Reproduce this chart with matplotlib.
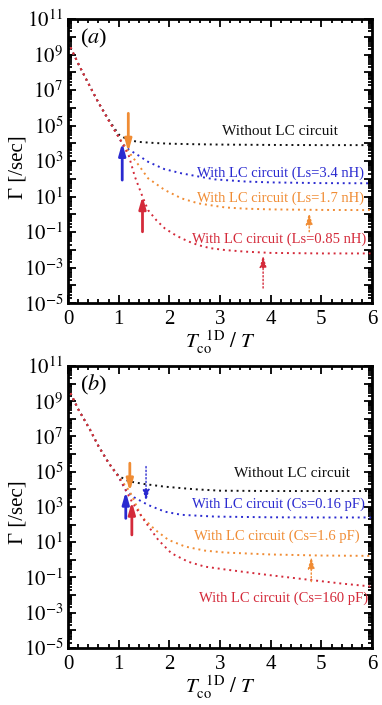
import numpy as np
import matplotlib
matplotlib.use("Agg")
import matplotlib.pyplot as plt
from matplotlib.ticker import LogLocator, FixedLocator, FuncFormatter, MultipleLocator, NullFormatter

plt.rcParams['font.family'] = ['Liberation Serif', 'DejaVu Serif']
plt.rcParams['mathtext.fontset'] = 'stix'

BLACK = '#111111'
BLUE = '#2a2ad0'
ORANGE = '#f08c34'
RED = '#d42a3a'

# ---- panel (a): log10(Gamma) ----
a_black_x = [0, 0.2, 0.4, 0.6, 0.8, 1.0, 1.19, 1.4, 1.7, 2.0, 2.5, 3.0, 4.0, 5.0, 6.0]
a_black_y = [9.7, 8.5, 7.38, 6.3, 5.35, 4.5, 4.18, 4.08, 4.02, 3.98, 3.95, 3.93, 3.91, 3.9, 3.9]

a_blue_x = [0, 0.2, 0.4, 0.6, 0.8, 1.0, 1.07, 1.2, 1.4, 1.58, 1.9, 2.24, 2.6, 2.9, 3.5, 4.0, 5.0, 6.0]
a_blue_y = [9.7, 8.5, 7.38, 6.3, 5.3, 4.35, 4.0, 3.65, 3.3, 2.96, 2.55, 2.31, 2.12, 1.97, 1.85, 1.8, 1.76, 1.75]

a_orange_x = [0, 0.2, 0.4, 0.6, 0.8, 1.0, 1.19, 1.4, 1.58, 1.91, 2.24, 2.57, 3.1, 3.5, 4.0, 5.0, 6.0]
a_orange_y = [9.7, 8.5, 7.38, 6.3, 5.3, 4.35, 3.55, 2.75, 2.03, 1.37, 0.9, 0.62, 0.39, 0.32, 0.28, 0.25, 0.24]

a_red_x = [0, 0.2, 0.4, 0.6, 0.8, 1.0, 1.2, 1.32, 1.47, 1.58, 1.75, 1.91, 2.08, 2.24, 2.4, 2.57, 2.8, 3.1, 3.5, 4.0, 5.0, 6.0]
a_red_y = [9.7, 8.5, 7.38, 6.3, 5.3, 4.35, 3.3, 2.12, 1.0, 0.24, -0.35, -0.79, -1.1, -1.35, -1.55, -1.73, -1.9, -2.01, -2.1, -2.17, -2.2, -2.2]

# ---- panel (b) ----
b_black_x = [0, 0.2, 0.45, 0.6, 0.8, 1.0, 1.2, 1.5, 1.9, 2.5, 3.0, 4.0, 5.0, 6.0]
b_black_y = [9.75, 8.55, 7.3, 6.45, 5.5, 4.75, 4.45, 4.3, 4.15, 4.0, 3.92, 3.9, 3.9, 3.9]

b_blue_x = [0, 0.2, 0.45, 0.6, 0.8, 1.0, 1.14, 1.3, 1.58, 1.91, 2.24, 2.9, 4.0, 5.0, 6.0]
b_blue_y = [9.75, 8.55, 7.3, 6.45, 5.5, 4.7, 3.95, 3.55, 3.11, 2.73, 2.55, 2.45, 2.41, 2.4, 2.4]

b_orange_x = [0, 0.2, 0.45, 0.6, 0.8, 1.0, 1.22, 1.45, 1.72, 1.98, 2.31, 2.7, 3.1, 4.0, 5.0, 6.0]
b_orange_y = [9.75, 8.55, 7.3, 6.45, 5.5, 4.7, 3.87, 2.45, 1.7, 1.13, 0.75, 0.52, 0.41, 0.3, 0.24, 0.22]

b_red_x = [0, 0.2, 0.45, 0.6, 0.8, 1.0, 1.26, 1.52, 1.78, 2.04, 2.37, 2.7, 3.1, 3.5, 4.0, 4.77, 5.4, 6.0]
b_red_y = [9.75, 8.55, 7.3, 6.45, 5.5, 4.7, 3.3, 2.17, 1.13, 0.37, -0.11, -0.39, -0.55, -0.7, -0.88, -1.14, -1.35, -1.52]

a_labels = ['Without LC circuit', 'With LC circuit (Ls=3.4 nH)',
            'With LC circuit (Ls=1.7 nH)', 'With LC circuit (Ls=0.85 nH)']
b_labels = ['Without LC circuit', 'With LC circuit (Cs=0.16 pF)',
            'With LC circuit (Cs=1.6 pF)', 'With LC circuit (Cs=160 pF)']

# label anchors (right edge x, log10 y)
a_label_pos = [(5.33, 4.65), (5.85, 2.32), (5.85, 0.9), (5.88, -1.39)]
b_label_pos = [(5.56, 4.91), (5.85, 3.15), (5.75, 1.35), (5.92, -2.18)]

# arrows: (x, log10 tail, log10 tip, colour, dotted)
a_arrows = [(1.19, 5.69, 3.52, ORANGE, False), (1.07, 1.93, 4.03, BLUE, False),
            (1.47, -0.98, 1.03, RED, False), (4.76, -0.98, 0.1, ORANGE, True),
            (3.85, -4.15, -2.3, RED, True)]
b_arrows = [(1.22, 5.48, 3.87, ORANGE, False), (1.14, 2.35, 3.87, BLUE, False),
            (1.26, 1.41, 3.3, RED, False), (1.54, 5.29, 3.3, BLUE, True),
            (4.8, -1.24, 0.18, ORANGE, True)]


def style_axes(ax):
    ax.set_xlim(0, 6)
    ax.set_yscale('log')
    ax.set_ylim(1e-5, 1e11)
    ax.xaxis.set_major_locator(MultipleLocator(1))
    ax.xaxis.set_minor_locator(MultipleLocator(0.2))
    ax.yaxis.set_major_locator(FixedLocator([10.0 ** k for k in range(-5, 12)]))
    ax.yaxis.set_minor_locator(LogLocator(base=10, subs=np.arange(2, 10), numticks=40))
    ax.yaxis.set_minor_formatter(NullFormatter())

    def fmt(v, pos):
        k = int(round(np.log10(v)))
        return r'$10^{%d}$' % k if k % 2 else ''
    ax.yaxis.set_major_formatter(FuncFormatter(fmt))
    ax.tick_params(which='both', direction='in', top=True, right=True, labelsize=15, width=1.3)
    ax.tick_params(which='major', length=6)
    ax.tick_params(which='minor', length=3)
    ax.tick_params(axis='x', pad=5)
    for s in ax.spines.values():
        s.set_linewidth(2)
    ax.set_ylabel('Γ [/sec]', fontsize=15, va='center')
    ax.yaxis.set_label_coords(-0.165, 0.48)
    ax.set_xlabel(r'$T_{\mathrm{co}}^{\ \ \mathrm{1D}}\ /\ T$', fontsize=15, labelpad=0)


def draw(ax, curves, labels, label_pos, arrows, tag):
    colors = [BLACK, BLUE, ORANGE, RED]
    for (x, y), c in zip(curves, colors):
        ax.plot(x, 10.0 ** np.array(y), ls=(0, (1, 2)), lw=1.4, color=c)
    for i, (txt, (lx, ly), c) in enumerate(zip(labels, label_pos, colors)):
        ax.text(lx, 10.0 ** ly, txt, color=c, fontsize=11 if i == 0 else 10.5, ha='right', va='center')
    for x, y0, y1, c, dotted in arrows:
        ax.annotate('', xy=(x, 10.0 ** y1), xytext=(x, 10.0 ** y0),
                    arrowprops=dict(arrowstyle='-|>,head_length=0.7,head_width=0.2',
                                    color=c, lw=1.0 if dotted else 2.0,
                                    ls=':' if dotted else '-', shrinkA=0, shrinkB=0))
    ax.text(0.24, 10.0 ** 9.9, tag, fontsize=16, ha='left', va='center')


fig = plt.figure(figsize=(3.82, 7.05), dpi=100)
ax1 = fig.add_axes([0.178, 0.570, 0.796, 0.403])
ax2 = fig.add_axes([0.178, 0.081, 0.796, 0.400])

style_axes(ax1)
style_axes(ax2)

draw(ax1, [(a_black_x, a_black_y), (a_blue_x, a_blue_y), (a_orange_x, a_orange_y), (a_red_x, a_red_y)],
     a_labels, a_label_pos, a_arrows, r'($a$)')
draw(ax2, [(b_black_x, b_black_y), (b_blue_x, b_blue_y), (b_orange_x, b_orange_y), (b_red_x, b_red_y)],
     b_labels, b_label_pos, b_arrows, r'($b$)')

fig.savefig('out.png', dpi=100)
